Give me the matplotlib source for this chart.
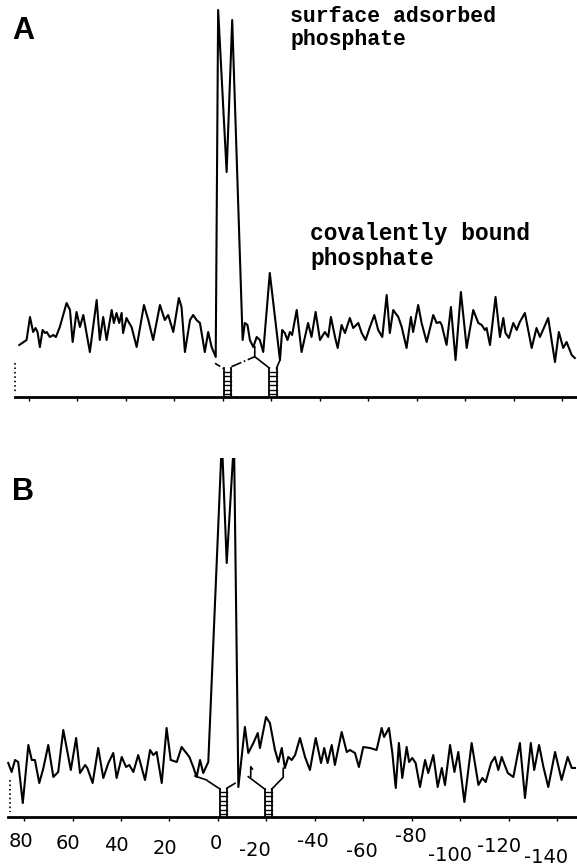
import numpy as np
import matplotlib.pyplot as plt
from matplotlib.transforms import ScaledTranslation

# 31P spectra, chemical shift in ppm, height in arbitrary units above the baseline
# panel A trace vertices
a_ppm = [84.0, 81.0, 79.6, 78.3, 77.3, 76.5, 75.5, 74.4, 73.4, 72.7, 71.4, 70.0, 68.9, 67.3,
         64.5, 63.1, 62.0, 60.4, 59.0, 57.6, 54.9, 52.1, 50.8, 49.4, 48.0, 45.9, 45.0, 43.9,
         42.8, 41.8, 41.2, 39.8, 38.7, 37.7, 35.6, 32.6, 30.8, 28.8, 26.0, 24.0, 22.6, 20.5,
         18.2, 17.1, 15.7, 13.6, 12.3, 10.9, 9.5, 7.5, 6.1, 4.7, 3.0, 2.0, -1.5, -3.8,
         -8.1, -9.0, -10.1, -11.1, -12.5, -13.9, -15.2, -16.6, -19.3, -23.5, -24.4, -25.5,
         -26.6, -27.6, -28.5, -30.4, -32.4, -35.1, -36.5, -38.2, -40.0, -42.0, -43.4, -44.5,
         -46.2, -47.3, -48.9, -50.3, -52.3, -53.7, -55.8, -57.2, -58.8, -60.6, -62.4, -64.0,
         -65.7, -67.5, -68.8, -70.2, -72.3, -73.7, -75.7, -77.5, -78.4, -80.5, -81.9, -84.0,
         -86.7, -88.1, -89.5, -90.2, -92.2, -94.0, -95.9, -98.1, -100.5, -103.2, -105.3,
         -106.7, -108.0, -108.7, -110.1, -112.4, -114.2, -115.6, -116.5, -117.9, -119.7,
         -121.1, -122.4, -124.5, -127.3, -129.3, -130.7, -134.1, -136.9, -138.5, -140.3,
         -141.7, -143.8, -145.1]
a_int = [52, 57, 80, 65, 69, 65, 50, 67, 64, 65, 60, 62, 60, 70,
         94, 87, 55, 85, 70, 82, 45, 97, 57, 80, 57, 87, 74, 84,
         74, 84, 64, 79, 74, 70, 50, 92, 77, 57, 92, 77, 82, 65,
         99, 90, 45, 77, 82, 77, 74, 45, 65, 50, 40, 387, 225, 377,
         57, 74, 72, 57, 50, 60, 57, 45, 124, 37, 67, 64,
         57, 65, 62, 87, 45, 74, 60, 85, 57, 65, 60, 80,
         60, 49, 72, 64, 79, 69, 74, 64, 57, 70, 82, 67,
         60, 102, 64, 87, 80, 70, 49, 80, 65, 92, 74, 55,
         82, 74, 75, 72, 52, 90, 37, 105, 49, 87, 74,
         72, 67, 69, 52, 100, 60, 79, 64, 59, 74,
         67, 75, 84, 49, 69, 60, 79, 35, 65, 49,
         55, 42, 39]

# panel B trace vertices
b_ppm = [86.5, 85.1, 83.7, 82.4, 80.5, 78.2, 76.8, 75.5, 73.7, 72.0, 70.0, 67.9, 65.9, 63.8,
         60.7, 58.5, 56.9, 54.8, 53.9, 51.7, 49.4, 47.3, 45.2, 43.2, 41.8, 39.7, 37.9, 36.6,
         34.9, 32.9, 30.1, 28.0, 26.7, 25.3, 23.2, 21.2, 19.5, 17.0, 15.0, 11.8, 10.2, 8.8,
         7.4, 6.1, 4.0, -1.6, -3.6, -6.6, -8.4, -11.1, -12.5, -14.6, -16.4, -17.3, -19.8,
         -21.4, -23.5, -24.9, -26.3, -27.6, -29.0, -30.4, -31.8, -33.8, -35.9, -37.9, -40.3,
         -42.5, -43.8, -45.2, -46.9, -48.2, -51.0, -53.1, -54.4, -56.5, -58.1, -59.9, -62.7,
         -65.4, -67.5, -68.5, -70.5, -71.9, -73.3, -74.6, -76.0, -77.8, -78.8, -80.1, -81.5,
         -83.3, -85.4, -86.7, -88.8, -90.6, -92.3, -93.6, -95.7, -97.5, -99.1, -101.6,
         -104.6, -107.4, -109.0, -110.4, -112.6, -114.2, -115.6, -117.0, -119.5, -121.8,
         -124.5, -126.6, -129.0, -130.4, -132.4, -134.2, -136.2, -139.0, -141.7, -144.2,
         -145.9, -147.2]
b_int = [54, 45, 57, 55, 14, 72, 57, 57, 34, 49, 72, 40, 45, 87,
         47, 79, 44, 52, 49, 34, 69, 39, 54, 64, 39, 60, 50, 52,
         45, 62, 37, 67, 62, 65, 34, 89, 57, 55, 70, 60, 50, 40,
         57, 44, 55, 377, 254, 377, 30, 90, 64, 74, 84, 69, 100,
         94, 67, 55, 69, 49, 60, 57, 62, 79, 60, 47, 79,
         54, 69, 54, 72, 52, 85, 65, 67, 64, 50, 70, 69,
         67, 89, 80, 89, 64, 29, 74, 39, 70, 55, 59, 54,
         30, 57, 44, 62, 30, 49, 32, 72, 45, 65, 15,
         74, 32, 39, 35, 54, 60, 47, 60, 44, 40,
         74, 19, 74, 47, 72, 50, 30, 65, 37, 60,
         49, 49]

# integral / assignment markers: (left ppm, right ppm, height)
a_ladders = [(-0.4, -3.5, 29), (-19.1, -22.1, 29)]
b_ladders = [(-0.8, -3.6, 28), (-19.4, -22.1, 28)]
a_guides = [([3.3, -0.1], [33.7, 28.7]),
            ([-3.5, -13.1], [30.3, 40.3]),
            ([-13.1, -13.1, -19.1], [50.3, 40.3, 29.0]),
            ([-22.1, -23.5], [29.0, 37.0])]
b_guides = [([9.5, 4.7], [41.0, 37.0]),
            ([4.2, -0.8], [36.0, 28.0]),
            ([-3.6, -7.0], [28.7, 33.7]),
            ([-14.2, -13.5, -13.5], [48.0, 50.3, 40.3]),
            ([-12.5, -19.4], [40.3, 27.7]),
            ([-22.1, -26.9, -26.9], [27.7, 39.7, 48.7])]

tick_ppm = [80, 60, 40, 20, 0, -20, -40, -60, -80, -100, -120, -140]
tick_text = ['80', '60', '40', '20', '0', '-20', '-40', '-60', '-80', '-100', '-120', '-140']
# hand-set label stagger (points down) and sideways nudge (pixels)
label_drop = [7.9, 9.3, 10.7, 12.9, 9.3, 14.3, 7.9, 15.0, 4.3, 17.9, 11.3, 19.6]
label_shift = [-3, -5, -5, -5, -2, -12, -2, -2, -1, -10, -10, -11]

W, H = 577, 868
fig = plt.figure(figsize=(W / 100, H / 100), dpi=100)
fig.patch.set_facecolor('white')

ax_a = fig.add_axes([0, (H - 397) / H, 1, 397 / H])
ax_b = fig.add_axes([0, (H - 817) / H, 1, 359 / H])


def draw_ladder(ax, left, right, top):
    ax.plot([left, left], [0, top], color='black', lw=1.3)
    ax.plot([right, right], [0, top], color='black', lw=1.3)
    for h in np.arange(3, top, 4.5):
        ax.plot([left, right], [h, h], color='black', lw=1.0)


def setup(ax, xlim, ylim, spine_from):
    ax.set_xlim(*xlim)
    ax.set_ylim(*ylim)
    for s in ['top', 'left', 'right']:
        ax.spines[s].set_visible(False)
    ax.spines['bottom'].set_linewidth(2.0)
    ax.spines['bottom'].set_bounds(spine_from, xlim[1])
    ax.set_yticks([])
    ax.set_xticks(tick_ppm)
    ax.tick_params(axis='x', direction='out', length=3, width=1.0)
    ax.patch.set_alpha(0)


# panel A
setup(ax_a, (91.96, -145.99), (0, 397), 85.8)
ax_a.set_xticklabels([])
ax_a.plot(a_ppm, a_int, color='black', lw=1.5, solid_joinstyle='round')
for left, right, top in a_ladders:
    draw_ladder(ax_a, left, right, top)
styles_a = ['--', '-.', '-', '-']
for (xs, ys), ls in zip(a_guides, styles_a):
    ax_a.plot(xs, ys, color='black', lw=1.2, ls=ls)
ax_a.plot([85.8, 85.8], [34, 3], color='black', lw=1.2, ls=':')

# panel B
setup(ax_b, (89.9, -148.05), (0, 359), 86.6)
ax_b.set_xticklabels(tick_text, fontsize=14, family='DejaVu Sans')
for tick, pad, dx in zip(ax_b.xaxis.get_major_ticks(), label_drop, label_shift):
    tick.set_pad(pad)
    lab = tick.label1
    lab.set_transform(lab.get_transform() + ScaledTranslation(dx / 100, 0, fig.dpi_scale_trans))
ax_b.plot(b_ppm, b_int, color='black', lw=1.5, solid_joinstyle='round')
for left, right, top in b_ladders:
    draw_ladder(ax_b, left, right, top)
for xs, ys in b_guides:
    ax_b.plot(xs, ys, color='black', lw=1.2)
ax_b.plot([85.8, 85.8], [37, 5], color='black', lw=1.2, ls=':')

# labels
fig.text(12 / W, 1 - 31 / H, 'A', fontsize=22, fontweight='bold', family='Liberation Sans',
         va='center', ha='left')
fig.text(12 / W, 1 - 492 / H, 'B', fontsize=22, fontweight='bold', family='Liberation Sans',
         va='center', ha='left')
fig.text(290 / W, 1 - 28 / H, 'surface adsorbed\nphosphate', fontsize=15.5, fontweight='bold',
         family='Liberation Mono', va='center', ha='left', linespacing=1.15)
fig.text(310 / W, 1 - 246 / H, 'covalently bound\nphosphate', fontsize=16.5, fontweight='bold',
         family='Liberation Mono', va='center', ha='left', linespacing=1.1)

fig.savefig('out.png', dpi=100, facecolor='white')
